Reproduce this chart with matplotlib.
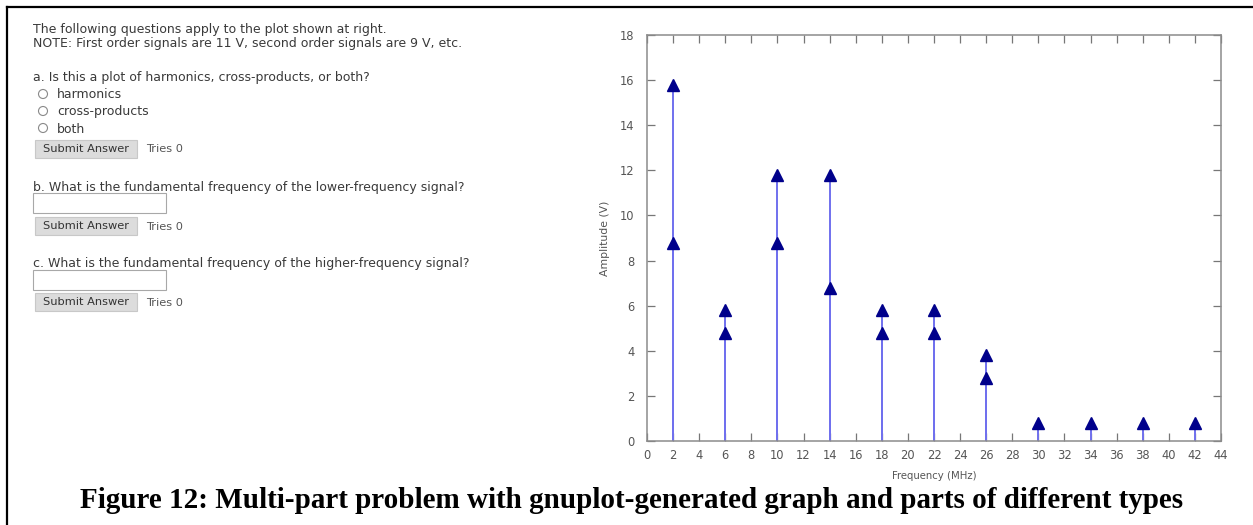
import matplotlib
matplotlib.use("Agg")
import matplotlib.pyplot as plt
from matplotlib.patches import Rectangle, Ellipse
from matplotlib.lines import Line2D

# spectrum data
freq_mhz = [2, 2, 6, 6, 10, 10, 14, 14, 18, 18, 22, 22, 26, 26, 30, 34, 38, 42]
amp_v = [15.8, 8.8, 5.8, 4.8, 11.8, 8.8, 11.8, 6.8, 5.8, 4.8, 5.8, 4.8,
         3.8, 2.8, 0.8, 0.8, 0.8, 0.8]
x_ticks = list(range(0, 45, 2))
y_ticks = list(range(0, 19, 2))

intro_lines = [
    "The following questions apply to the plot shown at right.",
    "NOTE: First order signals are 11 V, second order signals are 9 V, etc.",
]
question_a = "a. Is this a plot of harmonics, cross-products, or both?"
radio_options = ["harmonics", "cross-products", "both"]
question_b = "b. What is the fundamental frequency of the lower-frequency signal?"
question_c = "c. What is the fundamental frequency of the higher-frequency signal?"
caption = "Figure 12: Multi-part problem with gnuplot-generated graph and parts of different types"

W, H = 1253, 525
fig = plt.figure(figsize=(W / 100, H / 100), dpi=100)


def fx(px):
    return px / W


def fy(py):
    return 1 - py / H


txt = "#3a3a3a"
fs = 9


def button(top):
    fig.patches.append(Rectangle((fx(35), fy(top + 18)), fx(102), 18 / H,
                                 transform=fig.transFigure, facecolor="#dcdcdc",
                                 edgecolor="#c8c8c8", lw=0.8))
    fig.text(fx(86), fy(top + 9), "Submit Answer", ha="center", va="center",
             fontsize=8.2, color="#333333")
    fig.text(fx(146), fy(top + 9.5), "Tries 0", ha="left", va="center",
             fontsize=8.2, color="#555555")


def textbox(top):
    fig.patches.append(Rectangle((fx(33), fy(top + 20)), fx(133), 20 / H,
                                 transform=fig.transFigure, facecolor="white",
                                 edgecolor="#a8a8a8", lw=0.8))


# page frame
fig.add_artist(Line2D([fx(7), 1], [fy(7), fy(7)], color="black", lw=1.6,
                      transform=fig.transFigure))
fig.add_artist(Line2D([fx(7), fx(7)], [fy(7), 0], color="black", lw=1.6,
                      transform=fig.transFigure))

# left question panel
fig.text(fx(33), fy(29), intro_lines[0], fontsize=fs, color=txt, va="center")
fig.text(fx(33), fy(44), intro_lines[1], fontsize=fs, color=txt, va="center")
fig.text(fx(33), fy(77), question_a, fontsize=fs, color=txt, va="center")
for i, opt in enumerate(radio_options):
    yy = 94 + i * 17
    fig.patches.append(Ellipse((fx(43), fy(yy)), 9 / W, 9 / H,
                               transform=fig.transFigure, facecolor="white",
                               edgecolor="#8a8a8a", lw=0.8))
    fig.text(fx(57), fy(yy + 1), opt, fontsize=fs, color=txt, va="center")
button(140)
fig.text(fx(33), fy(187), question_b, fontsize=fs, color=txt, va="center")
textbox(193)
button(217)
fig.text(fx(33), fy(263), question_c, fontsize=fs, color=txt, va="center")
textbox(270)
button(293)

# gnuplot graph
ax = fig.add_axes([fx(647), fy(441), fx(1221 - 647), (441 - 35) / H])
ax.vlines(freq_mhz, 0, amp_v, color="#7070ee", lw=1.4, zorder=2)
ax.plot(freq_mhz, amp_v, linestyle="none", marker="^", markersize=8,
        color="#00008b", zorder=3)
ax.set_xlim(0, 44)
ax.set_ylim(0, 18)
ax.set_xticks(x_ticks)
ax.set_yticks(y_ticks)
ax.tick_params(direction="in", length=6, width=0.9, color="#777777",
               top=True, right=True, labelsize=8.3, labelcolor="#555555")
ax.tick_params(axis="x", pad=6)
ax.tick_params(axis="y", pad=9)
for s in ax.spines.values():
    s.set_color("#8c8c8c")
    s.set_linewidth(1.1)
ax.set_xlabel("Frequency (MHz)", fontsize=7.3, color="#555555", labelpad=6)
ax.set_ylabel("Amplitude (V)", fontsize=7.8, color="#555555", labelpad=7)

fig.text(fx(632), fy(501), caption, ha="center", va="center", fontsize=21,
         fontweight="bold", family="Liberation Serif", color="black")

fig.savefig("out.png", dpi=100)
